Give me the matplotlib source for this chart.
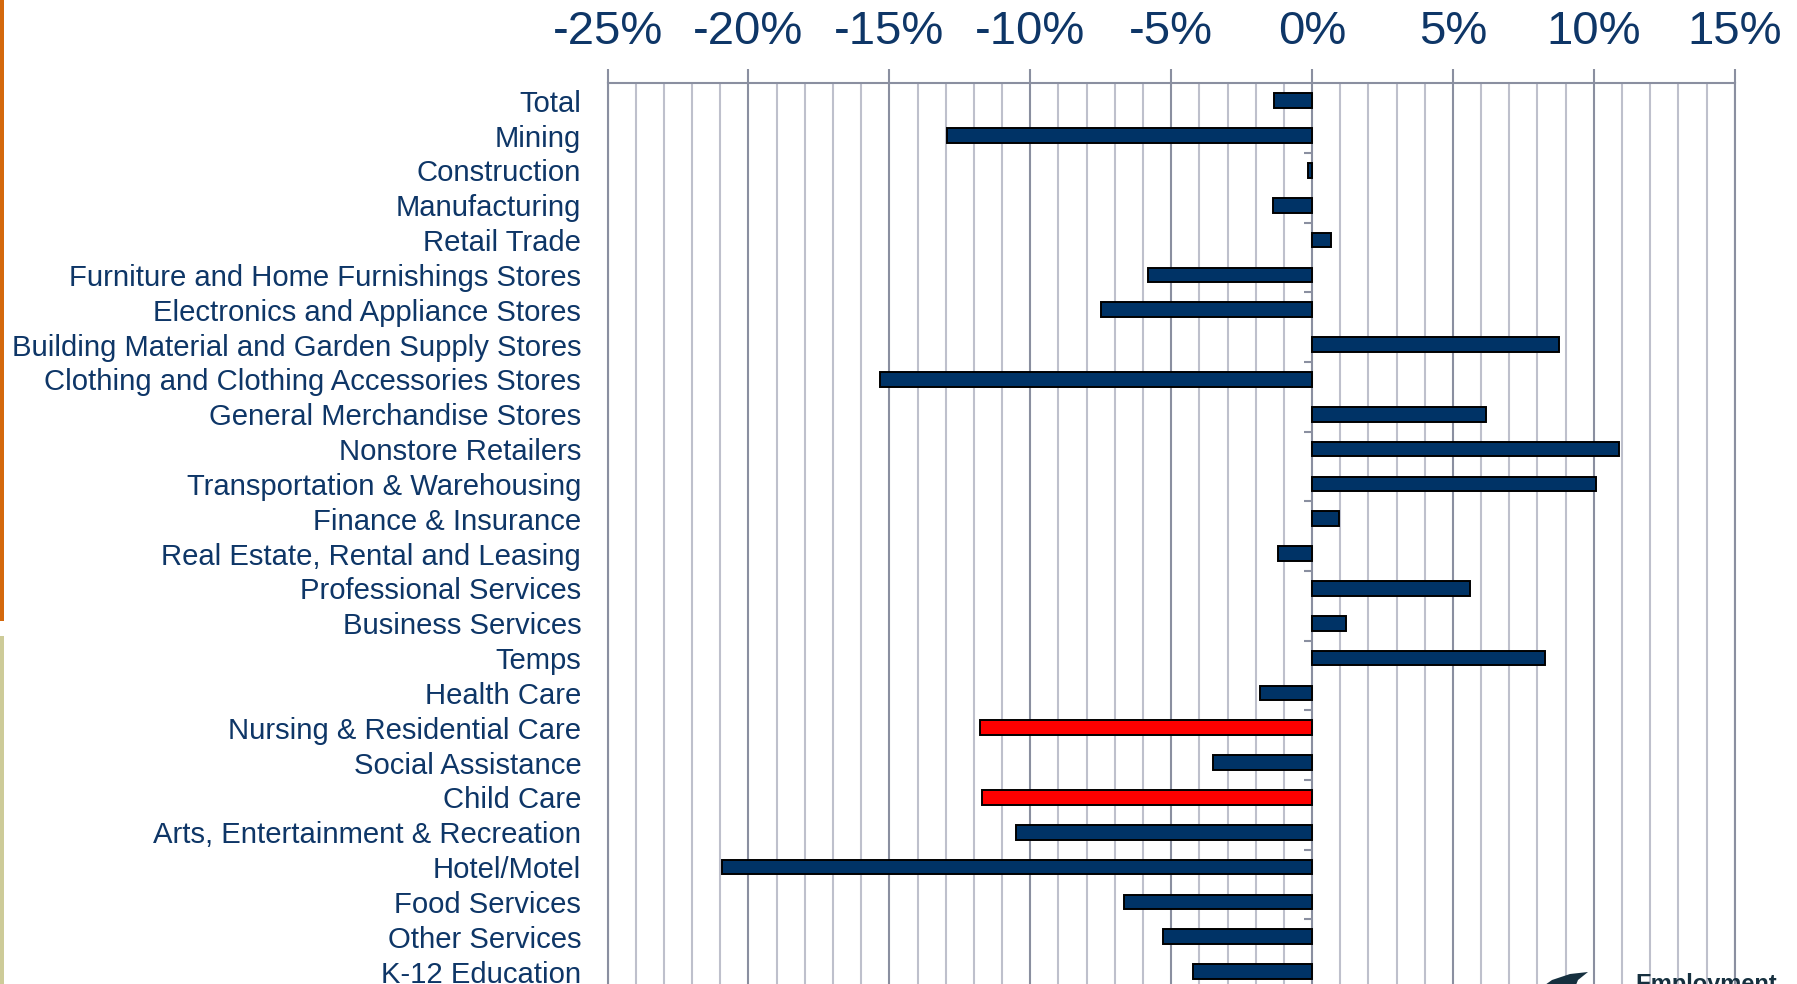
import matplotlib
matplotlib.use("Agg")
import matplotlib.pyplot as plt
from matplotlib.patches import Rectangle, Polygon
import numpy as np

plt.rcParams['font.family'] = ['Liberation Sans', 'DejaVu Sans']

categories = [
    "Total", "Mining", "Construction", "Manufacturing", "Retail Trade",
    "Furniture and Home Furnishings Stores", "Electronics and Appliance Stores",
    "Building Material and Garden Supply Stores", "Clothing and Clothing Accessories Stores",
    "General Merchandise Stores", "Nonstore Retailers", "Transportation & Warehousing",
    "Finance & Insurance", "Real Estate, Rental and Leasing", "Professional Services",
    "Business Services", "Temps", "Health Care", "Nursing & Residential Care",
    "Social Assistance", "Child Care", "Arts, Entertainment & Recreation",
    "Hotel/Motel", "Food Services", "Other Services", "K-12 Education",
]
values = [-1.36, -12.96, -0.15, -1.38, 0.68, -5.82, -7.50, 8.76, -15.35, 6.17,
          10.90, 10.07, 0.94, -1.22, 5.60, 1.21, 8.28, -1.84, -11.77, -3.51,
          -11.72, -10.52, -20.95, -6.66, -5.30, -4.22]
highlighted = ["Nursing & Residential Care", "Child Care"]
x_ticks = [-25, -20, -15, -10, -5, 0, 5, 10, 15]

NAVY = "#003366"
RED = "#FF0000"
TEXT = "#0E3667"
MAJOR = "#8A8FA0"
MINOR = "#BEC0CC"

W, H = 1797, 984
fig = plt.figure(figsize=(W / 100, H / 100), dpi=100)
fig.patch.set_facecolor("white")

left_px, right_px, top_px, bottom_px = 607.6, 1734.7, 83.3, 989.0
ax = fig.add_axes([left_px / W, 1 - bottom_px / H,
                   (right_px - left_px) / W, (bottom_px - top_px) / H])

ypos = np.arange(len(categories))
colors = [RED if c in highlighted else NAVY for c in categories]
ax.barh(ypos, values, height=0.42, color=colors, edgecolor="black",
        linewidth=1.4, zorder=3)

ax.set_xlim(-25, 15)
ax.set_ylim(len(categories) - 0.5, -0.5)

# x axis on top
ax.xaxis.set_ticks_position("top")
ax.set_xticks(x_ticks)
ax.set_xticklabels([f"{v}%" for v in x_ticks])
ax.set_xticks(np.arange(-25, 16, 1), minor=True)
ax.tick_params(axis="x", which="major", length=10, width=1.5, color=MAJOR,
               labelsize=34, labelcolor=TEXT, pad=11, top=True, bottom=False)
ax.tick_params(axis="x", which="minor", length=0, top=False, bottom=False)
ax.grid(axis="x", which="major", color=MAJOR, linewidth=1.5, zorder=0)
ax.grid(axis="x", which="minor", color=MINOR, linewidth=1.5, zorder=0)
ax.set_axisbelow(True)

# category labels
ax.set_yticks(ypos)
ax.set_yticklabels(categories)
ax.tick_params(axis="y", which="both", length=0, labelsize=21.1,
               labelcolor=TEXT, pad=19)

ax.spines["bottom"].set_visible(False)
for s in ["top", "left", "right"]:
    ax.spines[s].set_color(MAJOR)
    ax.spines[s].set_linewidth(1.5)

# category-axis crossing at zero with small ticks every second boundary
zero_frac = (0 - x_ticks[0]) / (x_ticks[-1] - x_ticks[0])
sec = ax.secondary_yaxis(zero_frac)
sec.set_yticks(np.arange(1.5, len(categories) - 0.5, 2))
sec.set_yticklabels([])
sec.tick_params(axis="y", which="both", left=True, right=False, direction="out",
                length=6, width=1.5, color=MAJOR, labelleft=False, labelright=False)
sec.spines["left"].set_color(MAJOR)
sec.spines["left"].set_linewidth(1.5)
for s in ["right", "top", "bottom"]:
    if s in sec.spines:
        sec.spines[s].set_visible(False)

# slide decorations
fig.add_artist(Rectangle((0, 1 - 620.7 / H), 4 / W, 620.7 / H,
                         transform=fig.transFigure, color="#D4680C", lw=0))
fig.add_artist(Rectangle((0, 0), 4 / W, 1 - 636 / H,
                         transform=fig.transFigure, color="#CDCB98", lw=0))
fig.text(1635 / W, 1 - 973 / H, "Employment", ha="left", va="top",
         fontsize=17, fontweight="bold", color="#16303F")
fin = [(1538, 990), (1552, 980), (1570, 974), (1588, 972), (1578, 980), (1574, 990)]
fig.add_artist(Polygon([(x / W, 1 - y / H) for x, y in fin], closed=True,
                       transform=fig.transFigure, color="#16303F", lw=0))

fig.savefig("out.png", dpi=100, facecolor="white")
